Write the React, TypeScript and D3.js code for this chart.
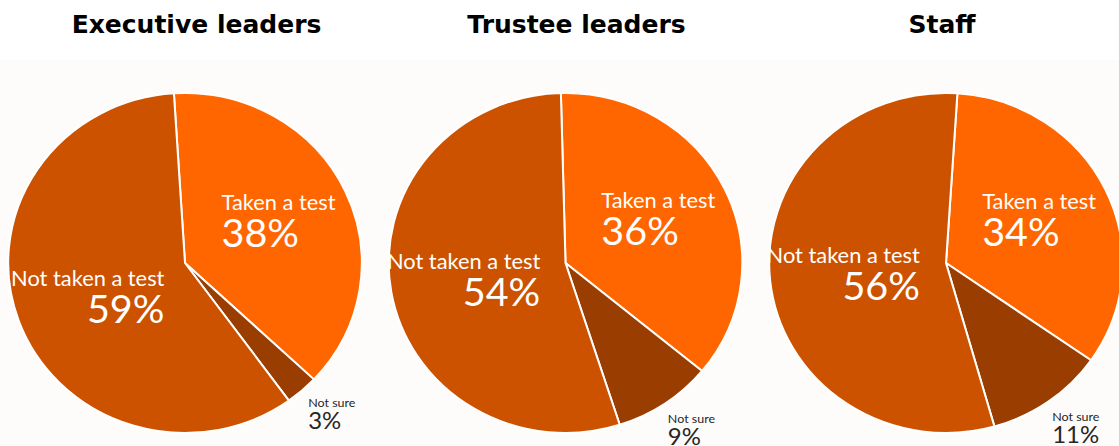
import React, { useMemo } from "react";
import * as d3 from "d3";

// ---- data ----
const titles = ["Executive leaders", "Trustee leaders", "Staff"];
const categories = ["Taken a test", "Not sure", "Not taken a test"];
const executiveValues = [38, 3, 59];
const trusteeValues = [36, 9, 54];
const staffValues = [34, 11, 56];
const seriesValues = [executiveValues, trusteeValues, staffValues];

// ---- layout / style ----
const W = 1119;
const H = 446;
const colors = ["#FF6600", "#993D00", "#CC5200"];
const outsideCategory = "Not sure";
const startAnglesDeg = [-3.6, -1.5, 3.7];
const titleX = [196.5, 576.5, 942];
const R = 170;
const SX = 1.04;
const CY = 263;
const LABEL_FONT = "Lato, 'Noto Sans', sans-serif";
const TITLE_FONT = "'Century Gothic', 'DejaVu Sans', sans-serif";

let ctx: CanvasRenderingContext2D | null = null;
function measure(text: string, size: number, weight = "normal") {
  if (!ctx) ctx = document.createElement("canvas").getContext("2d");
  if (!ctx) return text.length * size * 0.5;
  ctx.font = `${weight} ${size}px Lato`;
  return ctx.measureText(text).width;
}

export default function App() {
  const xScale = d3.scalePoint<string>().domain(titles).range([185, 946]);
  const arc = d3.arc<d3.PieArcDatum<number>>().innerRadius(0).outerRadius(R);

  const pies = useMemo(
    () =>
      seriesValues.map((vals, i) => {
        const start = (startAnglesDeg[i] * Math.PI) / 180;
        return d3
          .pie<number>()
          .sort(null)
          .value((d) => d)
          .startAngle(start)
          .endAngle(start + Math.PI * 2)(vals);
      }),
    []
  );

  return (
    <svg
      width={W}
      height={H}
      style={{ position: "absolute", left: 0, top: 0, background: "#ffffff" }}
    >
      <rect x={0} y={60} width={W} height={H - 60} fill="#fdfcfb" />
      {titles.map((t, i) => (
        <text
          key={t}
          x={titleX[i]}
          y={33}
          textAnchor="middle"
          fontFamily={TITLE_FONT}
          fontWeight="bold"
          fontSize={25}
          fill="#000"
        >
          {t}
        </text>
      ))}
      {pies.map((arcs, i) => (
        <g key={i} transform={`translate(${xScale(titles[i])},${CY}) scale(${SX},1)`}>
          {arcs.map((a, j) => (
            <path
              key={j}
              d={arc(a) || ""}
              fill={colors[j]}
              stroke="#ffffff"
              strokeWidth={2}
              strokeLinejoin="round"
              vectorEffect="non-scaling-stroke"
            />
          ))}
          {arcs.map((a, j) => {
            const cat = categories[j];
            const outside = cat === outsideCategory;
            const mid = (a.startAngle + a.endAngle) / 2 - (outside ? (1.5 * Math.PI) / 180 : 0);
            const rr = outside ? R * 1.22 : R * 0.585;
            const ax = Math.sin(mid) * rr;
            const ay = -Math.cos(mid) * rr;
            const s1 = outside ? 12 : 21;
            const s2 = outside ? 23 : 38;
            const line1 = cat;
            const line2 = `${a.data}%`;
            const w = Math.max(measure(line1, s1), measure(line2, s2));
            const leftAlign = ax > 0;
            const x = leftAlign ? ax - w / 2 : ax + w / 2;
            const anchor = leftAlign ? "start" : "end";
            const fill = outside ? "#262626" : "#ffffff";
            const b1 = outside ? ay - 8 : ay - 11;
            const b2 = outside ? ay + 14 : ay + 26;
            return (
              <g key={`l${j}`} fontFamily={LABEL_FONT} fill={fill}>
                <text x={x} y={b1} fontSize={s1} textAnchor={anchor}>
                  {line1}
                </text>
                <text x={x} y={b2} fontSize={s2} textAnchor={anchor}>
                  {line2}
                </text>
              </g>
            );
          })}
        </g>
      ))}
    </svg>
  );
}
